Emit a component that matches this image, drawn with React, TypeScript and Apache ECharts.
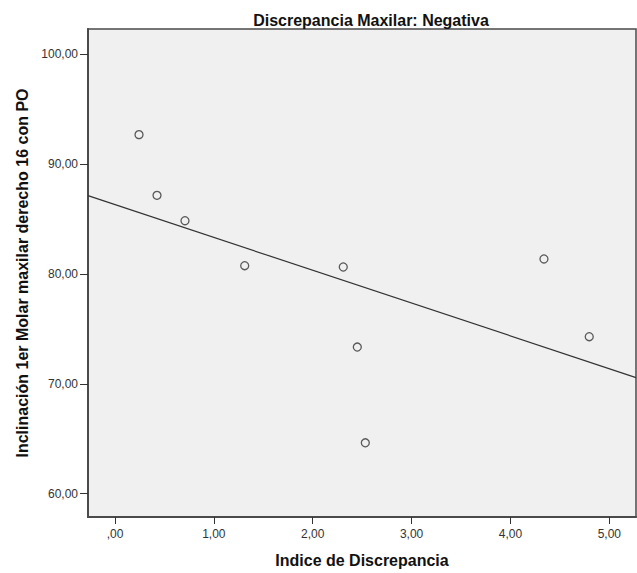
import React, { useEffect, useRef } from "react";
import * as echarts from "echarts";

const title = "Discrepancia Maxilar: Negativa";
const xName = "Indice de Discrepancia";
const yName = "Inclinación 1er Molar maxilar derecho 16 con PO";

const xValues = [0.243, 0.425, 0.708, 1.312, 2.309, 2.451, 2.532, 4.339, 4.797];
const yValues = [92.66, 87.14, 84.83, 80.74, 80.62, 73.34, 64.63, 81.35, 74.28];

const xTicks = [0, 1, 2, 3, 4, 5];
const yTicks = [60, 70, 80, 90, 100];

const xRange = [-0.273, 5.27];
const yRange = [57.88, 102.27];

function fmt(v: number): string {
  const s = v.toFixed(2).replace(".", ",");
  return s.startsWith("0,") ? s.slice(1) : s;
}

function linearFit(xs: number[], ys: number[]) {
  const n = xs.length;
  const mx = xs.reduce((a, b) => a + b, 0) / n;
  const my = ys.reduce((a, b) => a + b, 0) / n;
  let sxy = 0;
  let sxx = 0;
  for (let i = 0; i < n; i++) {
    sxy += (xs[i] - mx) * (ys[i] - my);
    sxx += (xs[i] - mx) * (xs[i] - mx);
  }
  const slope = sxy / sxx;
  return { slope, intercept: my - slope * mx };
}

export default function App() {
  const ref = useRef<HTMLDivElement>(null);
  useEffect(() => {
    document.body.style.margin = "0";
    if (!ref.current) return;
    const chart = echarts.init(ref.current, undefined, { renderer: "svg" });
    const fit = linearFit(xValues, yValues);
    const lineData = xRange.map((x) => [x, fit.intercept + fit.slope * x]);
    const font = "'Liberation Sans', Arial, sans-serif";
    chart.setOption({
      animation: false,
      backgroundColor: "#ffffff",
      title: {
        text: title,
        left: 366,
        textAlign: "center",
        top: 7,
        textStyle: { fontFamily: font, fontSize: 16, fontWeight: "bold", color: "#111" },
      },
      grid: {
        left: 88,
        right: 1,
        top: 29,
        bottom: 56,
        show: true,
        backgroundColor: "#f0f0f0",
        borderColor: "#4a4a4a",
        borderWidth: 1.5,
      },
      xAxis: {
        type: "value",
        min: xRange[0],
        max: xRange[1],
        name: xName,
        nameLocation: "middle",
        nameGap: 35,
        nameTextStyle: { fontFamily: font, fontSize: 16, fontWeight: "bold", color: "#111" },
        axisLine: { show: true, onZero: false, lineStyle: { color: "#4a4a4a", width: 2 } },
        axisTick: { show: true, length: 7, customValues: xTicks, lineStyle: { color: "#333", width: 1 } },
        axisLabel: {
          customValues: xTicks,
          formatter: (v: number) => fmt(v),
          margin: 11,
          fontFamily: font,
          fontSize: 12,
          color: "#333",
        },
        splitLine: { show: false },
      },
      yAxis: {
        type: "value",
        min: yRange[0],
        max: yRange[1],
        name: yName,
        nameLocation: "middle",
        nameGap: 56,
        nameRotate: 90,
        nameTextStyle: { fontFamily: font, fontSize: 16, fontWeight: "bold", color: "#111" },
        axisLine: { show: true, onZero: false, lineStyle: { color: "#4a4a4a", width: 2 } },
        axisTick: { show: true, length: 8, customValues: yTicks, lineStyle: { color: "#333", width: 1 } },
        axisLabel: {
          customValues: yTicks,
          formatter: (v: number) => fmt(v),
          margin: 10,
          fontFamily: font,
          fontSize: 12,
          color: "#333",
        },
        splitLine: { show: false },
      },
      series: [
        {
          type: "line",
          data: lineData,
          symbol: "none",
          lineStyle: { color: "#333", width: 1.2 },
          silent: true,
          z: 2,
        },
        {
          type: "scatter",
          data: xValues.map((x, i) => [x, yValues[i]]),
          symbol: "circle",
          symbolSize: 8,
          itemStyle: { color: "rgba(0,0,0,0)", borderColor: "#333", borderWidth: 1.3 },
          z: 3,
        },
      ],
    });
    return () => chart.dispose();
  }, []);
  return <div ref={ref} style={{ width: 637, height: 573 }} />;
}
